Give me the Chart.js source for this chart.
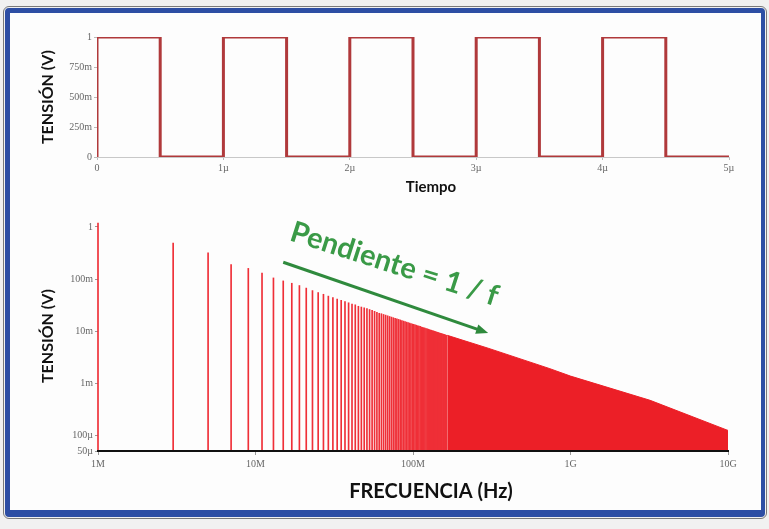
<!DOCTYPE html>
<html lang="es">
<head>
<meta charset="UTF-8">
<title>Onda cuadrada y espectro</title>
<script src="https://cdn.jsdelivr.net/npm/chart.js"></script>
<style>
  body { margin: 0; background: #f1f1f1; width: 769px; height: 529px; position: relative; overflow: hidden; }
  #frame {
    position: absolute; left: 5px; top: 8px; width: 751px; height: 497px;
    border-style: solid; border-color: #2d4ea4; border-width: 5px 4px 7px 5px;
    border-radius: 4px; background: #fdfdfd;
    outline: 1px solid #7a7a7a; outline-offset: 1px;
  }
  canvas { position: absolute; left: 0; }
  #wave { top: 15px; }
  #spectrum { top: 205px; }
</style>
</head>
<body>
<div id="frame"></div>
<canvas id="wave" width="769" height="190"></canvas>
<canvas id="spectrum" width="769" height="305"></canvas>

<script>
// square wave, time in µs
const waveTime  = [0, 0, 0.5, 0.5, 1, 1, 1.5, 1.5, 2, 2, 2.5, 2.5, 3, 3, 3.5, 3.5, 4, 4, 4.5, 4.5, 5];
const waveVolts = [0, 1, 1,   0,   0, 1, 1,   0,   0, 1, 1,   0,   0, 1, 1,   0,   0, 1, 1,   0,   0];
const timeTicks = ['0', '1µ', '2µ', '3µ', '4µ', '5µ'];
const voltTicks = ['0', '250m', '500m', '750m', '1'];

// spectrum: odd harmonics (MHz) and their amplitude (V)
const harmonicMHz = [1, 3, 5, 7, 9, 11, 13, 15, 17, 19, 21, 23, 25, 27, 29, 31, 33, 35, 37, 39,
  41, 43, 45, 47, 49, 51, 53, 55, 57, 59, 61, 63, 65, 67, 69, 71, 73, 75, 77, 79,
  81, 83, 85, 87, 89, 91, 93, 95, 97, 99, 101, 103, 105, 107, 109, 111, 113, 115, 117, 119,
  121, 123, 125, 127, 129, 131, 133, 135, 137, 139, 141, 143, 145, 147, 149, 151, 153, 155, 157, 159,
  161, 163];
const harmonicVolts = [1.19, 0.49, 0.32, 0.19, 0.16, 0.13, 0.105, 0.092, 0.083, 0.075, 0.067, 0.060, 0.055, 0.051, 0.047, 0.044, 0.041, 0.039, 0.037, 0.035,
  0.033, 0.032, 0.030, 0.029, 0.028, 0.027, 0.026, 0.025, 0.024, 0.023, 0.022, 0.0216, 0.0209, 0.0203, 0.0197, 0.0191, 0.0186, 0.0181, 0.0177, 0.0172,
  0.0168, 0.0164, 0.0160, 0.0156, 0.0153, 0.0149, 0.0146, 0.0143, 0.0140, 0.0137, 0.0135, 0.0132, 0.0130, 0.0127, 0.0125, 0.0123, 0.0120, 0.0118, 0.0116, 0.0114,
  0.0112, 0.0111, 0.0109, 0.0107, 0.0105, 0.0104, 0.0102, 0.0101, 0.0099, 0.0098, 0.0096, 0.0095, 0.0094, 0.0092, 0.0091, 0.0090, 0.0089, 0.0088, 0.0087, 0.0086,
  0.0084, 0.0083];

// above ~165 MHz the lines merge into a solid band
const bandHz    = [1.65e8, 3.0e8, 7.4e8, 1.0e9, 3.2e9, 1.0e10];
const bandVolts = [0.0083, 0.0047, 0.0019, 0.00137, 0.00047, 0.000124];

const freqTickValues = [1e6, 1e7, 1e8, 1e9, 1e10];
const freqTickLabels = ['1M', '10M', '100M', '1G', '10G'];
const ampTickValues  = [5e-5, 1e-4, 1e-3, 1e-2, 1e-1, 1];
const ampTickLabels  = ['50µ', '100µ', '1m', '10m', '100m', '1'];

// "Pendiente = 1 / f" note, anchored in (Hz, V)
const slopeText = 'Pendiente = 1 / f';
const slopeTextAt = [1.62e7, 0.56];
const slopeArrowFrom = [1.5e7, 0.21];
const slopeArrowTo = [3.0e8, 0.0092];

const tickFont = { family: 'Liberation Serif', size: 10 };
const titleFont = { family: 'Lato', size: 16, weight: 'bold' };

// x-axis captions sit a little right of the plot centre
const captionShift = 18;
const xCaption = {
  id: 'xCaption',
  afterDraw(chart, args, opts) {
    const { ctx, chartArea } = chart;
    ctx.save();
    ctx.font = opts.font;
    ctx.fillStyle = '#111';
    ctx.textAlign = 'center';
    ctx.textBaseline = 'middle';
    ctx.fillText(opts.text, (chartArea.left + chartArea.right) / 2 + captionShift, chartArea.bottom + opts.dy);
    ctx.restore();
  }
};

new Chart(document.getElementById('wave'), {
  type: 'line',
  data: {
    datasets: [{
      data: waveTime.map((t, i) => ({ x: t, y: waveVolts[i] })),
      borderColor: '#b0393b',
      borderWidth: 3,
      pointRadius: 0,
      tension: 0,
      borderJoinStyle: 'miter'
    }]
  },
  options: {
    responsive: false,
    animation: false,
    devicePixelRatio: 1,
    layout: { padding: { left: 34, right: 40, top: 22, bottom: 5 } },
    plugins: {
      legend: { display: false }, tooltip: { enabled: false },
      xCaption: { text: 'Tiempo', font: 'bold 15px Lato', dy: 30 }
    },
    scales: {
      x: {
        type: 'linear', min: 0, max: 5,
        afterFit: s => { s.height = 43; },
        grid: { color: 'transparent', tickColor: '#bbb', tickLength: 3 },
        border: { color: '#c8c8c8', width: 1 },
        ticks: { stepSize: 1, font: tickFont, color: '#666', padding: 2, maxRotation: 0,
                 callback: (v, i) => timeTicks[i] }
      },
      y: {
        min: 0, max: 1,
        afterFit: s => { s.width = 63; },
        grid: { color: 'transparent', tickColor: '#bbb', tickLength: 3 },
        border: { display: false },
        ticks: { stepSize: 0.25, font: tickFont, color: '#666', padding: 2,
                 callback: (v, i) => voltTicks[i] },
        title: { display: true, text: 'TENSIÓN (V)', color: '#111', font: titleFont }
      }
    }
  },
  plugins: [xCaption]
});

const slopeNote = {
  id: 'slopeNote',
  afterDatasetsDraw(chart) {
    const { ctx, scales: { x, y } } = chart;
    const x0 = x.getPixelForValue(slopeArrowFrom[0]), y0 = y.getPixelForValue(slopeArrowFrom[1]);
    const x1 = x.getPixelForValue(slopeArrowTo[0]), y1 = y.getPixelForValue(slopeArrowTo[1]);
    const ang = Math.atan2(y1 - y0, x1 - x0);
    ctx.save();
    ctx.strokeStyle = '#2f8a3d';
    ctx.fillStyle = '#2f8a3d';
    ctx.lineWidth = 3;
    ctx.beginPath();
    ctx.moveTo(x0, y0);
    ctx.lineTo(x1 - 8 * Math.cos(ang), y1 - 8 * Math.sin(ang));
    ctx.stroke();
    ctx.beginPath();
    ctx.moveTo(x1, y1);
    ctx.lineTo(x1 - 13 * Math.cos(ang - 0.38), y1 - 13 * Math.sin(ang - 0.38));
    ctx.lineTo(x1 - 13 * Math.cos(ang + 0.38), y1 - 13 * Math.sin(ang + 0.38));
    ctx.closePath();
    ctx.fill();

    const tx = x.getPixelForValue(slopeTextAt[0]), ty = y.getPixelForValue(slopeTextAt[1]);
    ctx.translate(tx, ty);
    ctx.rotate(0.31);
    ctx.fillStyle = '#3a9a47';
    ctx.font = 'bold 29px Lato';
    ctx.textBaseline = 'alphabetic';
    ctx.fillText(slopeText, 0, 0);
    ctx.restore();
  }
};

new Chart(document.getElementById('spectrum'), {
  type: 'bar',
  data: {
    datasets: [{
      type: 'bar',
      data: harmonicMHz.map((f, i) => ({ x: f * 1e6, y: harmonicVolts[i] })),
      backgroundColor: '#ef2f37',
      barThickness: 1,
      borderWidth: 0,
      clip: false
    }, {
      type: 'line',
      data: bandHz.map((f, i) => ({ x: f, y: bandVolts[i] })),
      borderColor: '#ec1f27',
      backgroundColor: '#ec1f27',
      borderWidth: 1,
      pointRadius: 0,
      tension: 0,
      fill: 'start'
    }]
  },
  options: {
    responsive: false,
    animation: false,
    devicePixelRatio: 1,
    layout: { padding: { left: 34, right: 41, top: 16, bottom: 4 } },
    plugins: {
      legend: { display: false }, tooltip: { enabled: false },
      xCaption: { text: 'FRECUENCIA (Hz)', font: 'bold 20px Lato', dy: 41 }
    },
    scales: {
      x: {
        type: 'logarithmic', min: 1e6, max: 1e10, offset: false,
        afterFit: s => { s.height = 55; },
        afterBuildTicks: s => { s.ticks = freqTickValues.map(v => ({ value: v })); },
        grid: { color: 'transparent', tickColor: '#999', tickLength: 4, offset: false },
        border: { color: '#111', width: 2, z: 1 },
        ticks: { font: tickFont, color: '#666', padding: 3, autoSkip: false, maxRotation: 0,
                 callback: (v, i) => freqTickLabels[i] }
      },
      y: {
        type: 'logarithmic', min: 5e-5, max: 1.3,
        afterFit: s => { s.width = 64; },
        afterBuildTicks: s => { s.ticks = ampTickValues.map(v => ({ value: v })); },
        grid: { color: 'transparent', tickColor: '#999', tickLength: 3 },
        border: { display: false },
        ticks: { font: tickFont, color: '#666', padding: 2, autoSkip: false,
                 callback: (v, i) => ampTickLabels[i] },
        title: { display: true, text: 'TENSIÓN (V)', color: '#111', font: titleFont }
      }
    }
  },
  plugins: [slopeNote, xCaption]
});
</script>
</body>
</html>
